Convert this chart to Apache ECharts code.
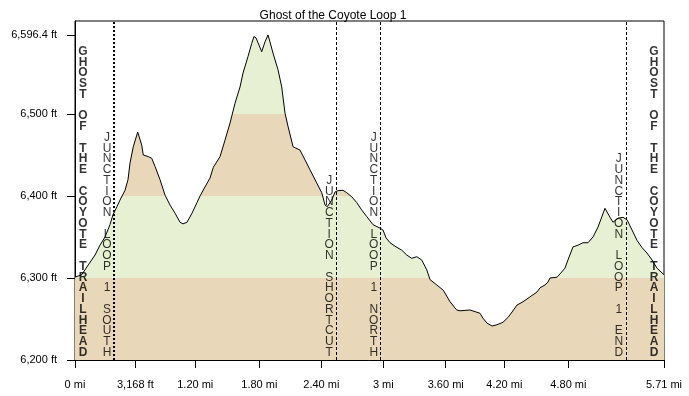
<!DOCTYPE html>
<html>
<head>
<meta charset="utf-8">
<script src="https://cdn.jsdelivr.net/npm/echarts@6/dist/echarts.min.js"></script>
<style>html,body{margin:0;padding:0;background:#fff}#c{width:689px;height:396px}</style>
</head>
<body>
<div id="c"></div>
<script>
// Elevation profile: distance (mi) and elevation (ft)
const distanceMi = [0,0.065,0.129,0.194,0.242,0.291,0.339,0.368,0.407,0.436,0.485,0.514,0.533,0.565,0.608,0.647,0.662,0.711,0.744,0.776,0.824,0.873,0.921,0.970,1.018,1.047,1.086,1.134,1.183,1.212,1.260,1.309,1.341,1.406,1.454,1.503,1.551,1.600,1.629,1.677,1.713,1.735,1.755,1.810,1.842,1.871,1.890,1.920,1.968,2.004,2.036,2.065,2.114,2.181,2.230,2.278,2.343,2.392,2.424,2.446,2.489,2.521,2.550,2.598,2.634,2.683,2.731,2.779,2.828,2.889,2.954,2.986,3.015,3.054,3.112,3.167,3.216,3.264,3.313,3.361,3.410,3.442,3.507,3.571,3.636,3.700,3.732,3.829,3.926,3.955,3.994,4.043,4.091,4.149,4.198,4.237,4.285,4.343,4.411,4.479,4.508,4.556,4.585,4.605,4.673,4.702,4.750,4.779,4.828,4.876,4.925,4.973,5.022,5.070,5.138,5.187,5.216,5.264,5.313,5.352,5.400,5.448,5.497,5.545,5.594,5.642,5.671,5.71];
const elevationFt = [6301,6304,6316,6328,6340,6350,6365,6377,6387,6395,6407,6420,6440,6460,6478,6462,6450,6448,6446,6436,6420,6401,6389,6379,6368,6366,6368,6379,6392,6400,6411,6422,6435,6448,6468,6489,6513,6533,6550,6570,6586,6594.5,6592.7,6576,6588,6596.4,6588,6574,6554,6533,6501,6485,6460,6456,6444,6432,6416,6404,6389,6387,6395,6405,6406.5,6407,6404,6399,6392,6383,6375,6365,6361,6358.5,6349,6343,6338,6334,6328,6324,6326,6322,6310,6298,6291.5,6285,6271,6261,6260,6261,6257,6251,6245,6241.5,6243,6246,6252,6258.5,6267,6271,6277,6283,6288,6291.5,6295,6300,6301,6305,6312,6322,6338,6340,6343,6343,6350,6362,6385,6374,6368,6373,6374,6371,6358.5,6346,6337,6330.5,6322,6312,6308.5,6304];

// Axis ticks
const xTickValues = [0, 0.585, 1.166, 1.787, 2.388, 2.989, 3.594, 4.162, 4.783, 5.71];
const xTickLabels = ['0 mi','3,168 ft','1.20 mi','1.80 mi','2.40 mi','3 mi','3.60 mi','4.20 mi','4.80 mi','5.71 mi'];
const yTickValues = [6200, 6300, 6400, 6500, 6596.4];

// Elevation bands
const bandEdges = [6200, 6300, 6400, 6500];

// Waypoints (mi)
const waypointNames = ['GHOST OF THE COYOTE TRAILHEAD','JUNCTION LOOP 1 SOUTH','JUNCTION SHORTCUT','JUNCTION LOOP 1 NORTH','JUNCTION LOOP 1 END','GHOST OF THE COYOTE TRAILHEAD'];
const waypointMi = [0, 0.378, 2.533, 2.964, 5.339, 5.71];

const chart = echarts.init(document.getElementById('c'));
const profile = distanceMi.map((d, i) => [d, elevationFt[i]]);
const TAN = '#E8D7B8', GREEN = '#E7F0D2';

function fmtFt(v) {
  const s = (Math.round(v * 10) / 10).toString();
  const parts = s.split('.');
  parts[0] = parts[0].replace(/\B(?=(\d{3})+(?!\d))/g, ',');
  return parts.join('.') + ' ft';
}
function stack(t) { return t.split('').join('\n'); }

const labelFont = 'Arial, "Liberation Sans", sans-serif';
const wpData = waypointMi.map((m, i) => {
  const trail = i === 0 || i === waypointMi.length - 1;
  return {
    value: [m, 6200],
    label: {
      show: true,
      position: 'top',
      distance: 2,
      formatter: stack(waypointNames[i]),
      fontFamily: labelFont,
      fontSize: 12,
      fontWeight: trail ? 'bold' : 'normal',
      lineHeight: 10.75,
      color: '#000',
      offset: [i === 0 ? 8 : (i === waypointMi.length - 1 ? -10 : -7), 0]
    }
  };
});

const markLines = waypointMi.slice(1, 5).map((m, i) => ({
  xAxis: m,
  lineStyle: i === 0 ? { type: [2, 2], width: 2, color: '#000' } : { type: [3, 2], width: 1, color: '#000' }
}));

chart.setOption({
  animation: false,
  backgroundColor: '#fff',
  title: {
    text: 'Ghost of the Coyote Loop 1',
    left: 328, top: 5, textAlign: 'center',
    textStyle: { fontFamily: labelFont, fontSize: 12, fontWeight: 'normal', color: '#000' }
  },
  grid: { left: 75, right: 25, top: 21, bottom: 36, show: true, borderColor: '#000', borderWidth: 1, backgroundColor: 'transparent' },
  xAxis: {
    type: 'value', min: 0, max: 5.71,
    axisLine: { lineStyle: { color: '#000' } },
    axisTick: { show: true, length: 8, customValues: xTickValues, lineStyle: { color: '#000' } },
    axisLabel: {
      customValues: xTickValues, margin: 19, fontFamily: labelFont, fontSize: 11, color: '#000',
      formatter: v => {
        let best = 0;
        xTickValues.forEach((t, i) => { if (Math.abs(t - v) < Math.abs(xTickValues[best] - v)) best = i; });
        return xTickLabels[best];
      }
    },
    splitLine: { show: false }
  },
  yAxis: {
    type: 'value', min: 6200, max: 6613.4,
    axisLine: { show: true, lineStyle: { color: '#000' } },
    axisTick: { show: true, length: 8, customValues: yTickValues, lineStyle: { color: '#000' } },
    axisLabel: { customValues: yTickValues, margin: 18, fontFamily: labelFont, fontSize: 11, color: '#000', formatter: fmtFt },
    splitLine: { show: false }
  },
  visualMap: {
    type: 'piecewise', show: false, seriesIndex: 0, dimension: 1,
    pieces: [
      { gte: bandEdges[0], lt: bandEdges[1], color: TAN },
      { gte: bandEdges[1], lt: bandEdges[2], color: GREEN },
      { gte: bandEdges[2], lt: bandEdges[3], color: TAN },
      { gte: bandEdges[3], color: GREEN }
    ]
  },
  series: [
    {
      type: 'line', data: profile, symbol: 'none', z: 1,
      lineStyle: { width: 0, opacity: 0 },
      areaStyle: { opacity: 1, origin: 'start' }
    },
    {
      type: 'line', data: profile, symbol: 'none', z: 3,
      lineStyle: { width: 1, color: '#000' },
      markLine: { symbol: 'none', silent: true, label: { show: false }, data: markLines, animation: false }
    },
    {
      type: 'scatter', data: wpData, symbolSize: 0, z: 4, silent: true
    }
  ]
});
</script>
</body>
</html>
